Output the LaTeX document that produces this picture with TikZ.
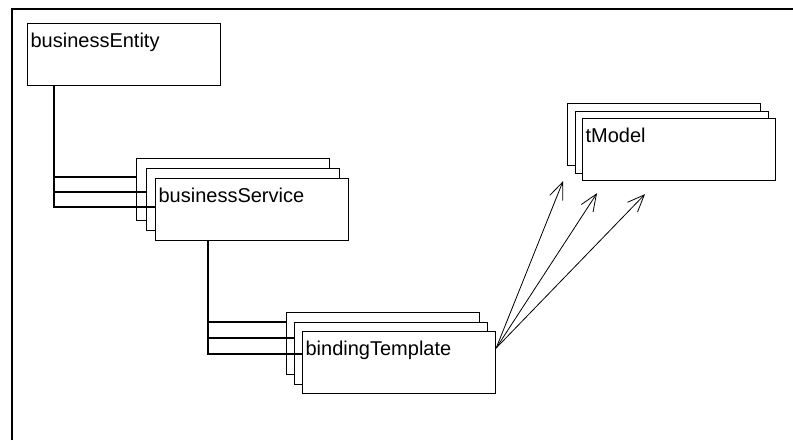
\documentclass[tikz,border=0pt]{standalone}
\usepackage{fontspec}
\setmainfont{Liberation Sans}
\usetikzlibrary{arrows.meta, calc}

\begin{document}
\begin{tikzpicture}[
    x=1pt, y=-1pt,
    card/.style={draw, fill=white, line width=1.2pt, anchor=north west,
        inner xsep=3pt, inner ysep=0pt, text width=187pt,
        text height=24pt, text depth=38pt, align=left,
        font=\fontsize{20}{24}\selectfont},
    link/.style={line width=1.2pt},
    uses/.style={line width=0.8pt, -{Straight Barb[length=17pt, width=14pt]}}
]
\useasboundingbox (0,0) rectangle (793,440);
\draw[line width=2pt] (12,440) |- (793,9);

% boxes, back copies first
\node[card] (entity) at (27,23) {businessEntity};
\node[card] (serviceA) at (136,158) {};
\node[card] (serviceB) at (146,168) {};
\node[card] (serviceC) at (155,178) {businessService};
\node[card] (bindingA) at (286,312) {};
\node[card] (bindingB) at (294,322) {};
\node[card] (bindingC) at (302,331) {bindingTemplate};
\node[card] (tmodelA) at (567,103) {};
\node[card] (tmodelB) at (575,111) {};
\node[card] (tmodelC) at (582,118) {tModel};

% containment lines
\draw[link] (entity.south west) ++(27,0) |- ($(serviceA.north west)+(0,19)$);
\draw[link] (entity.south west) ++(27,0) |- ($(serviceB.north west)+(0,24)$);
\draw[link] (entity.south west) ++(27,0) |- ($(serviceC.north west)+(0,29)$);
\draw[link] (serviceC.south west) ++(53,0) |- ($(bindingA.north west)+(0,10)$);
\draw[link] (serviceC.south west) ++(53,0) |- ($(bindingB.north west)+(0,16)$);
\draw[link] (serviceC.south west) ++(53,0) |- ($(bindingC.north west)+(0,23)$);

% references to tModel
\coordinate (bindOut) at ($(bindingC.north east)+(0,17)$);
\coordinate (tipA) at ($(tmodelC.south west)+(-19,0)$);
\coordinate (tipB) at ($(tmodelC.south west)+(15,12)$);
\coordinate (tipC) at ($(tmodelC.south west)+(63,13)$);
\draw[uses] (bindOut) -- (tipA);
\draw[uses] (bindOut) -- (tipB);
\draw[uses] (bindOut) -- (tipC);
\end{tikzpicture}
\end{document}
